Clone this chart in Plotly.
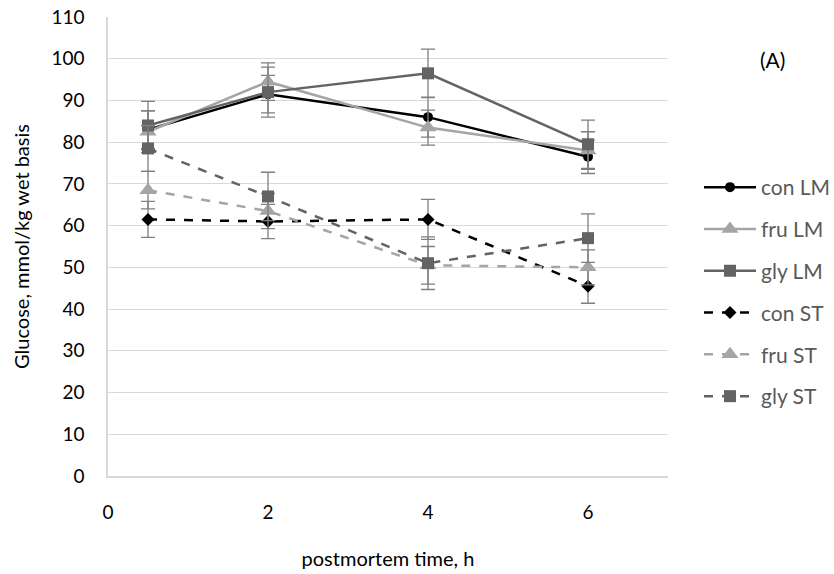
import plotly.graph_objects as go

# postmortem sampling times (h)
time_h = [0.5, 2, 4, 6]

# glucose, mmol/kg wet basis (means)
con_lm = [83.0, 91.5, 86.0, 76.5]
fru_lm = [82.5, 94.5, 83.5, 78.0]
gly_lm = [84.0, 92.0, 96.5, 79.5]
con_st = [61.5, 61.0, 61.5, 45.5]
fru_st = [68.5, 63.5, 50.5, 50.0]
gly_st = [78.5, 67.0, 51.0, 57.0]

# standard errors
con_lm_err = [4.5, 4.5, 4.8, 4.0]
fru_lm_err = [5.0, 4.5, 4.2, 4.5]
gly_lm_err = [5.8, 6.0, 5.8, 5.8]
con_st_err = [4.3, 4.1, 4.8, 4.1]
fru_st_err = [4.5, 4.2, 4.5, 4.2]
gly_st_err = [5.5, 5.8, 6.3, 5.8]

series_names = ["con LM", "fru LM", "gly LM", "con ST", "fru ST", "gly ST"]
series_vals = [con_lm, fru_lm, gly_lm, con_st, fru_st, gly_st]
series_errs = [con_lm_err, fru_lm_err, gly_lm_err, con_st_err, fru_st_err, gly_st_err]
series_colors = ["#000000", "#A5A5A5", "#636363", "#000000", "#A5A5A5", "#636363"]
series_symbols = ["circle", "triangle-up", "square", "diamond", "triangle-up", "square"]
series_sizes = [10, 15, 12, 10, 15, 12]
series_dash = ["solid", "solid", "solid", "dash", "dash", "dash"]

FONT = "Lato"
TEXT_GREY = "#595959"

# plot-area geometry in pixels
W, H = 834, 574
L, R, T, B = 108, 166, 17, 98
PW, PH = W - L - R, H - T - B

fig = go.Figure()
for name, vals, errs, col, sym, sz, dash in zip(
    series_names, series_vals, series_errs, series_colors,
    series_symbols, series_sizes, series_dash
):
    fig.add_trace(go.Scatter(
        x=time_h, y=vals, name=name, mode="lines+markers",
        legendgroup=name,
        line=dict(color=col, width=2.5, dash=dash),
        marker=dict(symbol=sym, size=sz, color=col),
        error_y=dict(type="data", array=errs, visible=True,
                     color="#7F7F7F", thickness=1.3, width=7),
    ))

# panel label
fig.add_annotation(
    text="(A)", xref="paper", yref="paper",
    x=(772 - L) / PW, y=(H - B - 59) / PH,
    xanchor="center", yanchor="middle", showarrow=False,
    font=dict(family=FONT, size=21, color="#000000"),
)

fig.update_layout(
    width=W, height=H,
    margin=dict(l=L, r=R, t=T, b=B, autoexpand=False),
    paper_bgcolor="white", plot_bgcolor="white",
    font=dict(family=FONT, size=19, color="#000000"),
    showlegend=True,
    legend=dict(
        x=1.0 + 31 / PW, xanchor="left",
        y=(H - B - 167) / PH, yanchor="top",
        font=dict(family=FONT, size=21, color=TEXT_GREY),
        tracegroupgap=11.5, itemwidth=52,
        bgcolor="rgba(0,0,0,0)",
    ),
    xaxis=dict(
        range=[0, 7], tickmode="linear", tick0=0, dtick=2,
        showgrid=False, zeroline=False,
        showline=True, linecolor="#D9D9D9", linewidth=1.5,
        ticks="", ticklabelstandoff=18,
        tickfont=dict(family=FONT, size=19, color="#000000"),
        title=dict(text="postmortem time, h", standoff=30,
                   font=dict(family=FONT, size=20, color="#000000")),
    ),
    yaxis=dict(
        range=[0, 110], tickmode="linear", tick0=0, dtick=10,
        showgrid=True, gridcolor="#D9D9D9", gridwidth=1.2,
        zeroline=False,
        showline=True, linecolor="#D9D9D9", linewidth=1.5,
        ticks="", ticklabelstandoff=18,
        tickfont=dict(family=FONT, size=19, color="#000000"),
        title=dict(text="Glucose, mmol/kg wet basis", standoff=16,
                   font=dict(family=FONT, size=20, color="#000000")),
    ),
)

fig.write_html("out.html")
